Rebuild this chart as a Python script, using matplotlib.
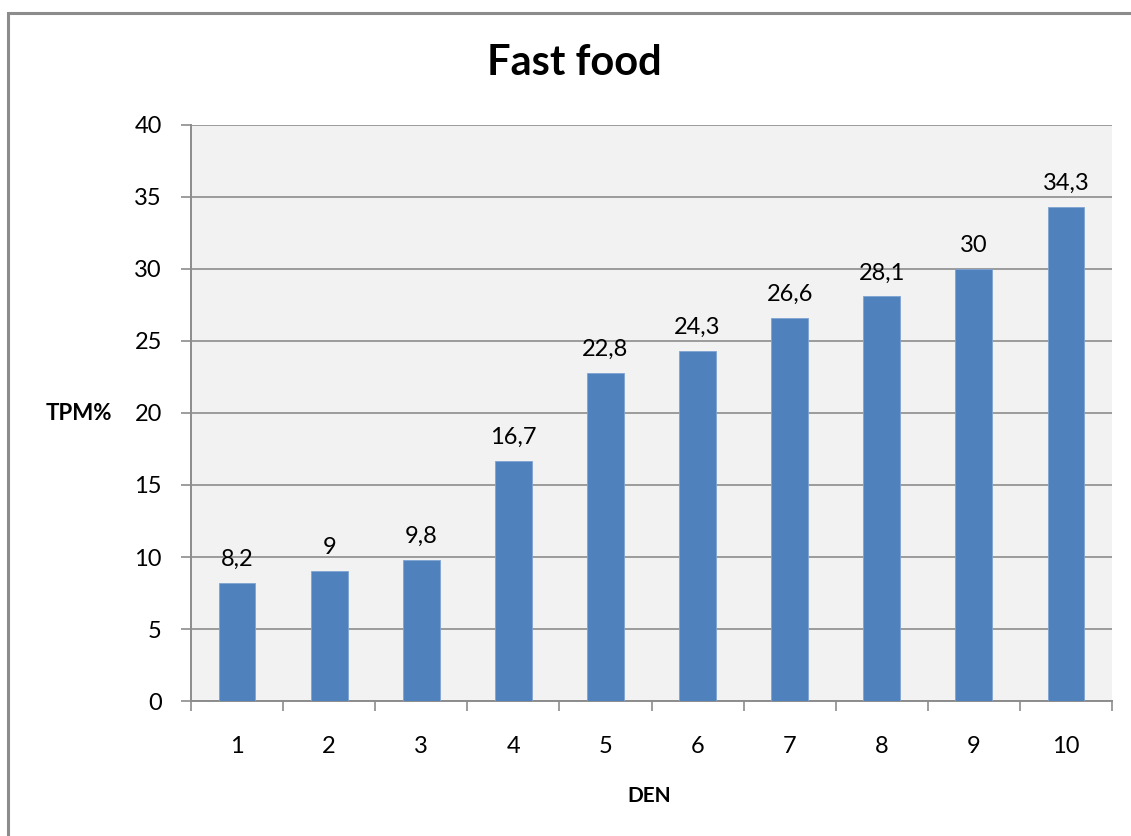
import matplotlib.pyplot as plt
from matplotlib.patches import Rectangle

days = [1, 2, 3, 4, 5, 6, 7, 8, 9, 10]
tpm = [8.2, 9, 9.8, 16.7, 22.8, 24.3, 26.6, 28.1, 30, 34.3]
yticks = [0, 5, 10, 15, 20, 25, 30, 35, 40]

plt.rcParams['font.family'] = ['Lato', 'DejaVu Sans']

fig = plt.figure(figsize=(11.31, 8.36), dpi=100)
W, H = 1131, 836

# chart frame (runs off the right and bottom edges)
fig.patches.append(Rectangle((8 / W, -0.01), 1.2, 1 - 13 / H + 0.01,
                             transform=fig.transFigure, fill=False,
                             edgecolor='#8c8c8c', linewidth=2.2))

ax = fig.add_axes([191 / W, 1 - 701 / H, (1112 - 191) / W, (701 - 125) / H])
ax.set_facecolor('#f2f2f2')

x = list(range(len(days)))
bars = ax.bar(x, tpm, width=0.4, color='#4f81bd', edgecolor='#7ea3d3',
              linewidth=0.6, zorder=3)

for xi, v in zip(x, tpm):
    txt = f'{v:g}'.replace('.', ',')
    ax.text(xi, v + 0.9, txt, ha='center', va='bottom', fontsize=17,
            color='#000000')

ax.set_xlim(-0.5, len(days) - 0.5)
ax.set_ylim(0, 40)
ax.set_yticks(yticks)
ax.set_yticklabels([str(t) for t in yticks], fontsize=17)
ax.set_xticks(x)
ax.set_xticklabels([str(d) for d in days], fontsize=17)
ax.set_xticks([i - 0.5 for i in range(len(days) + 1)], minor=True)

ax.grid(axis='y', color='#8c8c8c', linewidth=1.2, zorder=0)
ax.tick_params(axis='x', which='major', length=0, pad=25)
ax.tick_params(axis='x', which='minor', length=7, width=1.2, color='#8c8c8c',
               direction='out')
ax.tick_params(axis='y', length=7, width=1.2, color='#8c8c8c', pad=14,
               direction='out')

for side in ['top', 'right']:
    ax.spines[side].set_visible(False)
for side in ['left', 'bottom']:
    ax.spines[side].set_color('#8c8c8c')
    ax.spines[side].set_linewidth(1.4)

fig.text(574 / W, 1 - 63 / H, 'Fast food', ha='center', va='center',
         fontsize=30, fontweight='bold')
fig.text(79 / W, 1 - 413 / H, 'TPM%', ha='center', va='center',
         fontsize=16, fontweight='bold')
fig.text(649 / W, 1 - 796 / H, 'DEN', ha='center', va='center',
         fontsize=15, fontweight='bold')

fig.savefig('out.png', dpi=100)
